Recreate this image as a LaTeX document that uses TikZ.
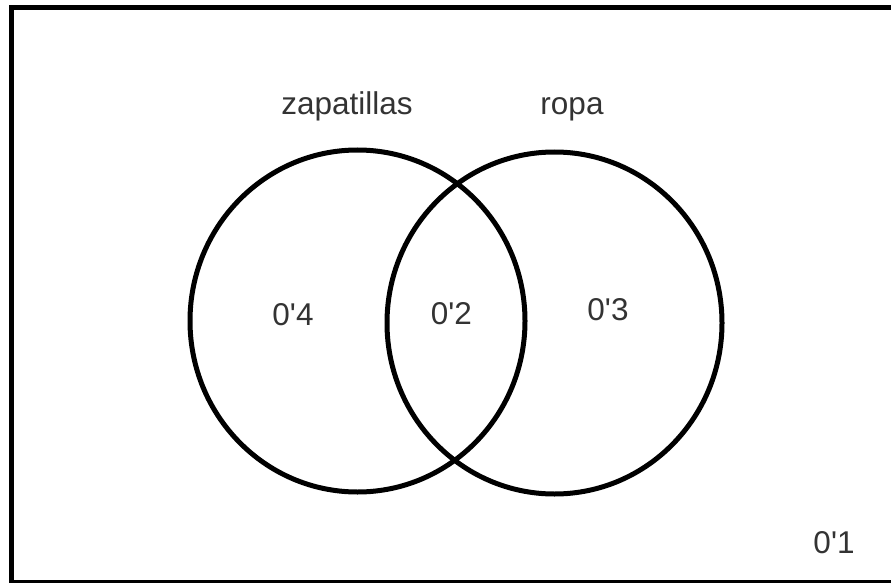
\documentclass[tikz,border=0pt]{standalone}
\usepackage{fontspec}
\newfontfamily\lblfont{Liberation Sans}
\begin{document}
\begin{tikzpicture}[x=1pt,y=-1pt,
  setline/.style={line width=5pt,draw=black},
  lbl/.style={anchor=base,inner sep=0pt,font=\lblfont\fontsize{31.5}{36}\selectfont,text=black!80}]
\useasboundingbox (0,0) rectangle (891,583);
\clip (0,0) rectangle (891,583);
\draw[setline] (11,8) rectangle (900,582);
\draw[setline] (357.5,321) ellipse [x radius=167.5, y radius=171];
\draw[setline] (554.5,323) ellipse [x radius=167.5, y radius=171];
\node[lbl] (zap) at (347,114) {zapatillas};
\node[lbl] (ropa) at (572,114) {ropa};
\node[lbl] (a) at (293,325.7) {0'4};
\node[lbl] (ab) at (451.3,324) {0'2};
\node[lbl] (b) at (608,320) {0'3};
\node[lbl] (n) at (834,553.3) {0'1};
\end{tikzpicture}
\end{document}
